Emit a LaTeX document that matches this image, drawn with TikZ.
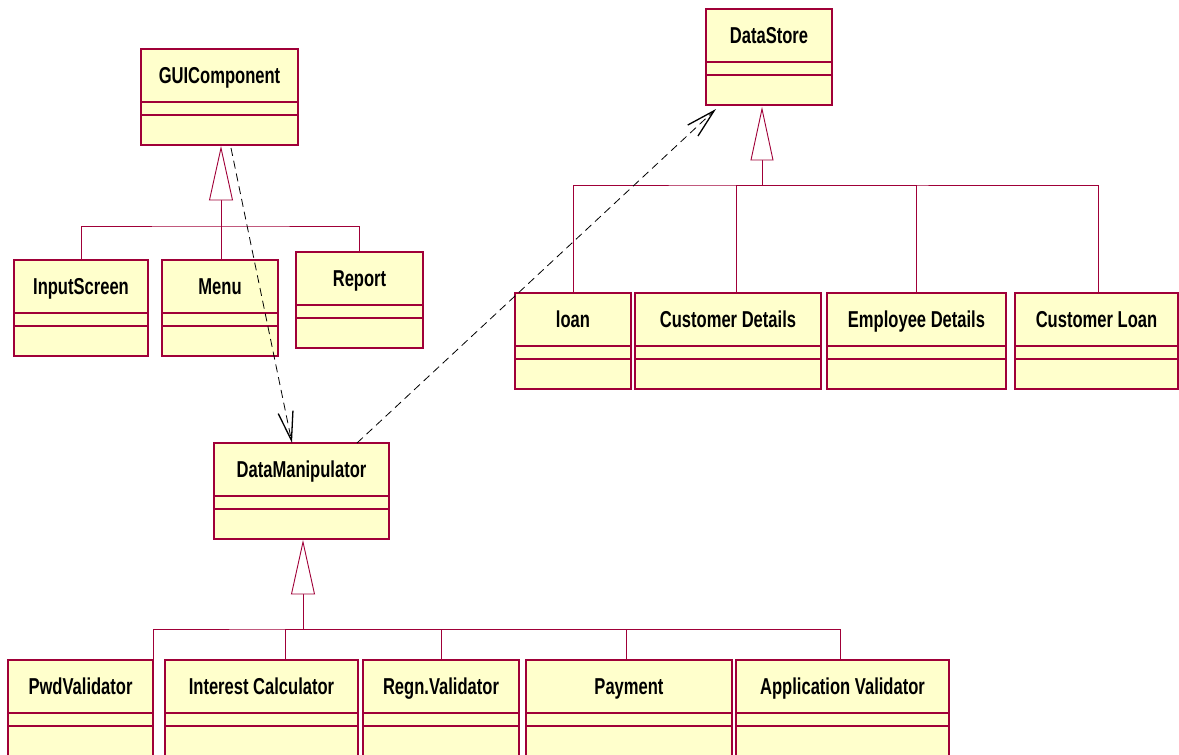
\documentclass[tikz,border=0pt]{standalone}
\usepackage{fontspec}
\newfontfamily\clsfont{Liberation Sans}[FakeStretch=0.72]
\usetikzlibrary{arrows.meta}
\definecolor{umlline}{RGB}{160,0,56}
\definecolor{umlfill}{RGB}{255,255,204}

% class box: name, x, y (top left), width, title
\newcommand\umlclass[5]{%
  \node[cls, minimum width=#4pt] (#1) at (#2,#3) {};
  \node[clsname, anchor=base] (#1-name) at ([yshift=-34pt]#1.north) {#5};
  \draw[sep] ([yshift=-53pt]#1.north west) -- ([yshift=-53pt]#1.north east);
  \draw[sep] ([yshift=-66pt]#1.north west) -- ([yshift=-66pt]#1.north east);
}

\begin{document}
\begin{tikzpicture}[x=1pt,y=-1pt,
  cls/.style={draw=umlline, fill=umlfill, line width=1.3pt, rectangle,
    inner sep=0pt, outer sep=0pt, minimum height=96pt, anchor=north west},
  clsname/.style={font=\clsfont\bfseries\fontsize{23}{23}\selectfont, inner sep=0pt},
  sep/.style={draw=umlline, line width=1.1pt},
  genline/.style={draw=umlline, line width=0.9pt},
  gentri/.style={draw=umlline, fill=white, line width=0.9pt},
  dep/.style={draw=black, line width=0.8pt, dash pattern=on 8pt off 5pt,
    -{Straight Barb[length=29pt,width=15pt,line width=1.3pt]}}]

\useasboundingbox (0,0) rectangle (1179,755);
\clip (0,0) rectangle (1179,755);

% GUI layer
\umlclass{GUI}{141}{49}{157}{GUIComponent}
\umlclass{InputScreen}{14}{260}{134}{InputScreen}
\umlclass{Menu}{162}{260}{116}{Menu}
\umlclass{Report}{296}{252}{127}{Report}

% processing layer
\umlclass{DataManip}{214}{443}{175}{DataManipulator}
\umlclass{Pwd}{8}{660}{145}{PwdValidator}
\umlclass{Interest}{165}{660}{193}{Interest Calculator}
\umlclass{Regn}{363}{660}{156}{Regn.Validator}
\umlclass{Payment}{526}{660}{206}{Payment}
\umlclass{AppVal}{736}{660}{213}{Application Validator}

% storage layer
\umlclass{DataStore}{706}{9}{126}{DataStore}
\umlclass{Loan}{515}{293}{116}{loan}
\umlclass{CustDetails}{635}{293}{186}{Customer Details}
\umlclass{EmpDetails}{827}{293}{179}{Employee Details}
\umlclass{CustLoan}{1015}{293}{163}{Customer Loan}

% generalization: GUIComponent
\coordinate (guiTip) at ([xshift=1.5pt,yshift=-3pt]GUI.south);
\coordinate (guiBase) at ([yshift=-52pt]guiTip);
\coordinate (guiBus) at ([yshift=-26pt]guiBase);
\draw[genline] (guiBase) -- (Menu.north -| guiBase);
\draw[genline] (InputScreen.north) |- (guiBus) -| (Report.north);
\draw[gentri] (guiTip) -- ++(-11.5,52) -- ++(23,0) -- cycle;

% generalization: DataManipulator
\coordinate (dmTip) at ([xshift=1.5pt,yshift=-3pt]DataManip.south);
\coordinate (dmBase) at ([yshift=-52pt]dmTip);
\coordinate (dmBus) at ([yshift=-35pt]dmBase);
\draw[genline] (dmBase) -- (dmBus);
\draw[genline] (Pwd.north east) |- (dmBus) -| ([xshift=-2pt]AppVal.north);
\draw[genline] ([xshift=23.5pt]Interest.north) |- (dmBus);
\draw[genline] (Regn.north) |- (dmBus);
\draw[genline] ([xshift=-3pt]Payment.north) |- (dmBus);
\draw[gentri] (dmTip) -- ++(-11.5,52) -- ++(23,0) -- cycle;

% generalization: DataStore
\coordinate (dsTip) at ([xshift=-7pt,yshift=-4pt]DataStore.south);
\coordinate (dsBase) at ([yshift=-51pt]dsTip);
\coordinate (dsBus) at ([yshift=-25pt]dsBase);
\draw[genline] (dsBase) -- (dsBus);
\draw[genline] (Loan.north) |- (dsBus) -| ([xshift=2pt]CustLoan.north);
\draw[genline] ([xshift=8pt]CustDetails.north) |- (dsBus);
\draw[genline] (EmpDetails.north) |- (dsBus);
\draw[gentri] (dsTip) -- ++(-11,51) -- ++(22,0) -- cycle;

% dependencies
\draw[dep] ([xshift=11.5pt,yshift=-3pt]GUI.south) -- ([xshift=-9.5pt]DataManip.north);
\draw[dep] ([xshift=55.5pt]DataManip.north) -- ([xshift=-53pt,yshift=-4pt]DataStore.south);

\end{tikzpicture}
\end{document}
